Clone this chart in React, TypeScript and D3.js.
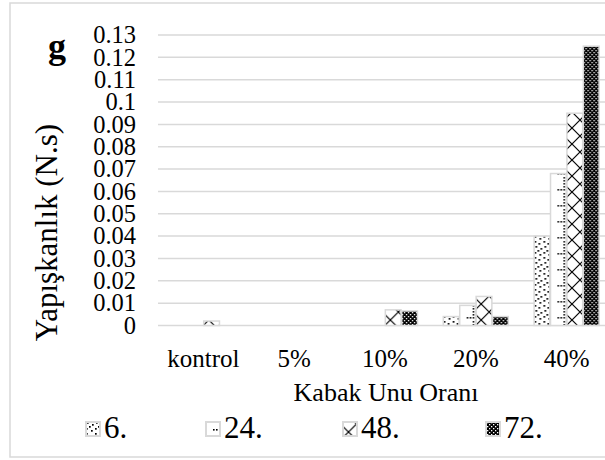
import React from 'react';
import * as d3 from 'd3';

// Categories on the x axis and the four series (hours)
const categories = ['kontrol', '5%', '10%', '20%', '40%'];
const seriesNames = ['6.', '24.', '48.', '72.'];
const values6 = [0, 0, 0, 0.004, 0.04];
const values24 = [0, 0, 0, 0.009, 0.068];
const values48 = [0.002, 0, 0.007, 0.013, 0.095];
const values72 = [0, 0, 0.0065, 0.004, 0.125];
const yTicks = [0, 0.01, 0.02, 0.03, 0.04, 0.05, 0.06, 0.07, 0.08, 0.09, 0.1, 0.11, 0.12, 0.13];
const yTickLabels = ['0', '0.01', '0.02', '0.03', '0.04', '0.05', '0.06', '0.07', '0.08', '0.09', '0.1', '0.11', '0.12', '0.13'];
const xTitle = 'Kabak Unu Oranı';
const yTitle = 'Yapışkanlık (N.s)';
const panelLabel = 'g';

const seriesValues = [values6, values24, values48, values72];
const patternIds = ['pat-dots', 'pat-grid', 'pat-cross', 'pat-dark'];

const W = 605;
const H = 460;
const FONT = '"Liberation Serif", "Times New Roman", serif';
const GRID = '#d9d9d9';

// plot area
const plotLeft = 158;
const plotRight = 612;
const plotTop = 35;
const plotBottom = 325.5;

// legend item left edges
const legendX = [85, 205, 342, 485];

export default function App() {
  const x0 = d3
    .scaleBand<string>()
    .domain(categories)
    .range([plotLeft, plotRight])
    .paddingInner(0.27)
    .paddingOuter(0.135);
  const x1 = d3.scaleBand<string>().domain(seriesNames).range([0, x0.bandwidth()]).padding(0.04);
  const y = d3.scaleLinear().domain([0, 0.13]).range([plotBottom, plotTop]);

  const dotPts = [
    [1, 1], [5, 3], [2, 6], [7, 8], [4, 10], [1, 12], [6, 14],
  ];

  return (
    <svg
      width={W}
      height={H}
      style={{ position: 'fixed', left: 0, top: 0, background: '#fff' }}
    >
      <defs>
        <pattern id="pat-dots" width="9" height="16" patternUnits="userSpaceOnUse">
          <rect width="9" height="16" fill="#fff" />
          {dotPts.map((p, i) => (
            <rect key={i} x={p[0]} y={p[1]} width="1.7" height="1.7" fill="#000" />
          ))}
        </pattern>
        <pattern id="pat-grid" width="16" height="16" patternUnits="userSpaceOnUse" x="550" y="0">
          <rect width="16" height="16" fill="#fff" />
          {[0, 3, 6, 9, 12].map((yy) => (
            <rect key={'v' + yy} x="8" y={yy + 1} width="1.6" height="1.6" fill="#000" />
          ))}
          {[2, 5].map((xx) => (
            <rect key={'h' + xx} x={xx} y="13" width="1.6" height="1.6" fill="#000" />
          ))}
        </pattern>
        <pattern id="pat-cross" width="16" height="16" patternUnits="userSpaceOnUse" x="566.5" y="0">
          <rect width="16" height="16" fill="#fff" />
          <path d="M0,0L16,16M16,0L0,16" stroke="#000" strokeWidth="1.2" />
        </pattern>
        <pattern id="pat-dark" width="4" height="4" patternUnits="userSpaceOnUse">
          <rect width="4" height="4" fill="#000" />
          <rect x="0" y="0" width="1.3" height="1.3" fill="#fff" />
          <rect x="2" y="2" width="1.3" height="1.3" fill="#fff" />
        </pattern>
      </defs>

      <rect x={0} y={0} width={W} height={H} fill="#fff" />
      {/* chart area border */}
      <rect x={10} y={3} width={620} height={454} fill="none" stroke={GRID} strokeWidth={1.5} />

      {/* horizontal gridlines */}
      {yTicks.map((t) => (
        <line
          key={t}
          x1={plotLeft}
          x2={plotRight}
          y1={y(t)}
          y2={y(t)}
          stroke={GRID}
          strokeWidth={1.5}
        />
      ))}

      {/* y tick labels */}
      {yTicks.map((t, i) => (
        <text
          key={'l' + t}
          x={136}
          y={y(t)}
          dy="0.34em"
          textAnchor="end"
          fontFamily={FONT}
          fontSize={24.5}
          fill="#000"
        >
          {yTickLabels[i]}
        </text>
      ))}

      {/* bars */}
      {categories.map((c, ci) => (
        <g key={c} transform={`translate(${x0(c)},0)`}>
          {seriesNames.map((s, si) => {
            const v = seriesValues[si][ci];
            if (!v) return null;
            return (
              <rect
                key={s}
                x={x1(s)}
                y={y(v)}
                width={x1.bandwidth()}
                height={y(0) - y(v)}
                fill={`url(#${patternIds[si]})`}
                stroke={GRID}
                strokeWidth={1.5}
              />
            );
          })}
        </g>
      ))}

      {/* category labels */}
      {categories.map((c) => (
        <text
          key={'c' + c}
          x={(x0(c) as number) + x0.bandwidth() / 2}
          y={367}
          textAnchor="middle"
          fontFamily={FONT}
          fontSize={25}
          fill="#000"
        >
          {c}
        </text>
      ))}

      {/* axis titles */}
      <text
        x={386}
        y={401}
        textAnchor="middle"
        fontFamily={FONT}
        fontSize={26}
        fill="#000"
      >
        {xTitle}
      </text>
      <text
        transform={`translate(57,232.5) rotate(-90)`}
        textAnchor="middle"
        fontFamily={FONT}
        fontSize={31}
        fill="#000"
      >
        {yTitle}
      </text>
      <text x={48} y={58} fontFamily={FONT} fontSize={36} fontWeight="bold" fill="#000">
        {panelLabel}
      </text>

      {/* legend */}
      {seriesNames.map((s, i) => (
        <g key={'lg' + s} transform={`translate(${legendX[i]},0)`}>
          <rect
            x={1}
            y={422}
            width={14}
            height={14}
            fill={`url(#${patternIds[i]})`}
            stroke={GRID}
            strokeWidth={2}
          />
          <text x={19} y={438} fontFamily={FONT} fontSize={31} fill="#000">
            {s}
          </text>
        </g>
      ))}
    </svg>
  );
}
